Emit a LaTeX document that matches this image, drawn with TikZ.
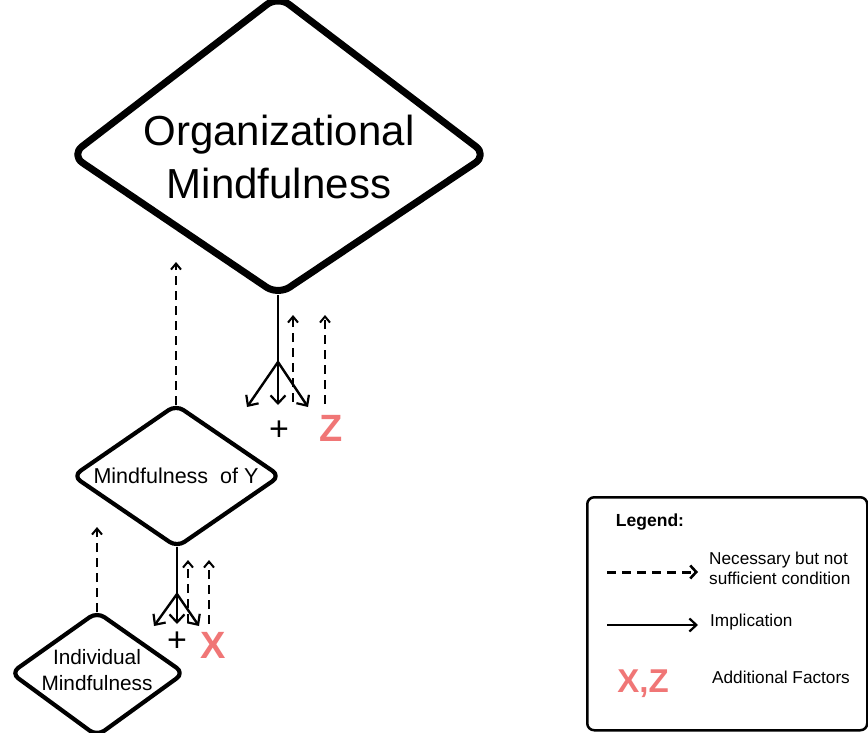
\documentclass[tikz,border=0pt]{standalone}
\usepackage{fontspec}
\setmainfont{Liberation Sans}
\usetikzlibrary{arrows.meta}
\definecolor{factorred}{RGB}{240,118,118}
\begin{document}
\begin{tikzpicture}[x=1pt,y=-1pt,
  bigdiam/.style={line width=7pt, line join=round, rounded corners=14pt},
  smalldiam/.style={line width=4.2pt, line join=round, rounded corners=9pt},
  imp/.style={line width=2.4pt, -{Straight Barb[length=8pt,width=15pt,line width=2.2pt]}},
  nec/.style={line width=2.4pt, dash pattern=on 9pt off 6pt, -{Straight Barb[length=6pt,width=10pt,line width=2pt]}},
  factor/.style={text=factorred, font=\fontsize{38}{40}\selectfont\bfseries, inner sep=0pt},
  plus/.style={font=\fontsize{34}{36}\selectfont, inner sep=0pt},
  legtext/.style={font=\fontsize{17.2}{20}\selectfont, align=left, anchor=west, inner sep=0pt}
]
\useasboundingbox (0,0) rectangle (868,733);

% Organizational Mindfulness diamond
\coordinate (omT) at (278,-4);
\coordinate (omR) at (487,155);
\coordinate (omB) at (278,295);
\coordinate (omL) at (71,155);
\draw[bigdiam] (omT) -- (omR) -- (omB) -- (omL) -- cycle;
\node[font=\fontsize{42}{53}\selectfont, align=center] (om) at (279,157) {Organizational\\Mindfulness};

% Mindfulness of Y diamond
\coordinate (myT) at (176,405);
\coordinate (myR) at (280,476);
\coordinate (myB) at (177,547);
\coordinate (myL) at (73,476);
\draw[smalldiam] (myT) -- (myR) -- (myB) -- (myL) -- cycle;
\node[font=\fontsize{21.5}{24}\selectfont] (my) at (176,476) {Mindfulness\ \ of Y};

% Individual Mindfulness diamond
\coordinate (imT) at (97,612);
\coordinate (imR) at (184,673);
\coordinate (imB) at (97,736);
\coordinate (imL) at (11,673);
\draw[smalldiam] (imT) -- (imR) -- (imB) -- (imL) -- cycle;
\node[font=\fontsize{20.8}{26}\selectfont, align=center] (im) at (97,670) {Individual\\Mindfulness};

% upper split
\coordinate (sp1) at (278,362);
\coordinate (u1l) at (247,407);
\coordinate (u1m) at (278,405);
\coordinate (u1r) at (308,407);
\draw[line width=2.4pt] (omB) -- (sp1);
\draw[imp] (sp1) -- (u1l);
\draw[imp] (sp1) -- (u1m);
\draw[imp] (sp1) -- (u1r);
\coordinate (d1as) at (293,402);
\coordinate (d1ae) at (293,315);
\coordinate (d1bs) at (325,404);
\coordinate (d1be) at (325,315);
\draw[nec] (d1as) -- (d1ae);
\draw[nec] (d1bs) -- (d1be);
\node[plus] (p1) at (279,431) {+};
\node[factor] (z) at (331,428) {Z};

% dashed from Mindfulness of Y to Organizational
\coordinate (myUp) at (176,262);
\draw[nec] (myT) -- (myUp);

% lower split
\coordinate (sp2) at (177,594);
\coordinate (u2l) at (154,626);
\coordinate (u2m) at (177,624);
\coordinate (u2r) at (199,626);
\draw[line width=2.4pt] (myB) -- (sp2);
\draw[imp] (sp2) -- (u2l);
\draw[imp] (sp2) -- (u2m);
\draw[imp] (sp2) -- (u2r);
\coordinate (d2as) at (188,623);
\coordinate (d2ae) at (188,560);
\coordinate (d2bs) at (209,624);
\coordinate (d2be) at (209,560);
\draw[nec] (d2as) -- (d2ae);
\draw[nec] (d2bs) -- (d2be);
\node[plus] (p2) at (177,642) {+};
\node[factor] (x) at (213,645) {X};

% dashed from Individual to Mindfulness of Y
\coordinate (imUp) at (97,527);
\draw[nec] (imT) -- (imUp);

% Legend
\node[draw, line width=2.5pt, rounded corners=7pt, minimum width=280pt, minimum height=233pt, anchor=north west, inner sep=0pt] (legend) at (586,496) {};
\node[font=\fontsize{17.5}{20}\selectfont\bfseries] (legtitle) at (650,522) {Legend:};
\coordinate (l1s) at (607,572);
\coordinate (l1e) at (698,572);
\draw[line width=3pt, dash pattern=on 9pt off 6pt, -{Straight Barb[length=6pt,width=13pt,line width=2.6pt]}] (l1s) -- (l1e);
\node[legtext] (l1t) at (709,568) {Necessary but not\\sufficient condition};
\coordinate (l2s) at (607,625);
\coordinate (l2e) at (698,625);
\draw[line width=2.4pt, -{Straight Barb[length=7pt,width=13pt,line width=2.2pt]}] (l2s) -- (l2e);
\node[legtext] (l2t) at (710,622) {Implication};
\node[text=factorred, font=\fontsize{33}{36}\selectfont\bfseries, inner sep=0pt] (xz) at (643,684) {X,Z};
\node[legtext] (l3t) at (712,677) {Additional Factors};
\end{tikzpicture}
\end{document}
